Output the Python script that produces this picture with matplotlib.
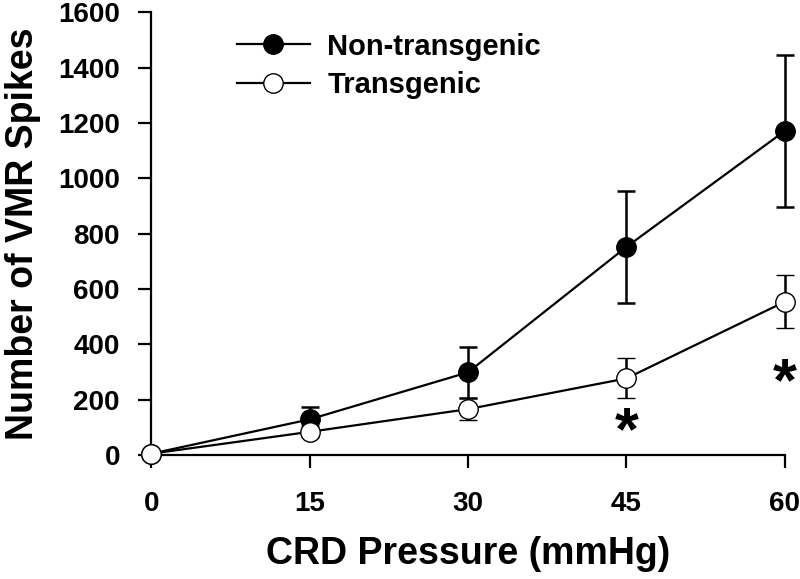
import matplotlib.pyplot as plt
from matplotlib.lines import Line2D

# data
pressure = [0, 15, 30, 45, 60]
nontg_mean = [5, 129, 299, 752, 1171]
nontg_err = [0, 43, 92, 202, 274]
tg_mean = [5, 84, 166, 277, 554]
tg_err = [0, 20, 40, 72, 95]
star_x = [45, 60]
star_y = [78, 255]

plt.rcParams['font.family'] = ['Liberation Sans', 'DejaVu Sans']
plt.rcParams['font.weight'] = 'bold'

fig = plt.figure(figsize=(8, 5.79), dpi=100)
ax = fig.add_axes([0.189, 0.214, 0.792, 0.765])

ax.errorbar(pressure, nontg_mean, yerr=nontg_err, color='black', lw=1.6,
            marker='o', markersize=14, markerfacecolor='black', markeredgecolor='black',
            capsize=6.5, capthick=1.8, elinewidth=1.8, clip_on=False, zorder=3)
ax.errorbar(pressure, tg_mean, yerr=tg_err, color='black', lw=1.6,
            marker='o', markersize=14, markerfacecolor='white', markeredgecolor='black',
            markeredgewidth=1.0, capsize=6.5, capthick=1.8, elinewidth=1.8,
            clip_on=False, zorder=4)

# significance marks
for sx, sy in zip(star_x, star_y):
    ax.text(sx, sy, '*', fontsize=44, fontweight='bold', ha='center', va='center')

ax.set_xlim(0, 60)
ax.set_ylim(0, 1600)
ax.set_xticks(pressure)
ax.set_yticks(range(0, 1601, 200))
ax.tick_params(direction='out', length=9.5, width=1.6, labelsize=20)
ax.tick_params(axis='y', pad=13)
ax.tick_params(axis='x', pad=16)
for lab in ax.get_xticklabels() + ax.get_yticklabels():
    lab.set_fontweight('bold')

ax.spines['top'].set_visible(False)
ax.spines['right'].set_visible(False)
ax.spines['left'].set_linewidth(1.6)
ax.spines['bottom'].set_linewidth(1.6)

ax.set_xlabel('CRD Pressure (mmHg)', fontsize=27, fontweight='bold', labelpad=14)
ax.set_ylabel('Number of VMR Spikes', fontsize=27, fontweight='bold', labelpad=12)

handles = [
    Line2D([], [], color='black', lw=1.6, marker='o', markersize=14,
           markerfacecolor='black', markeredgecolor='black'),
    Line2D([], [], color='black', lw=1.6, marker='o', markersize=14,
           markerfacecolor='white', markeredgecolor='black', markeredgewidth=1.0),
]
ax.legend(handles, ['Non-transgenic', 'Transgenic'], loc='upper left',
          bbox_to_anchor=(0.094, 1.013), frameon=False,
          handlelength=2.5, handletextpad=0.6, labelspacing=0.35,
          prop={'weight': 'bold', 'size': 21})

fig.savefig('out.png', dpi=100)
